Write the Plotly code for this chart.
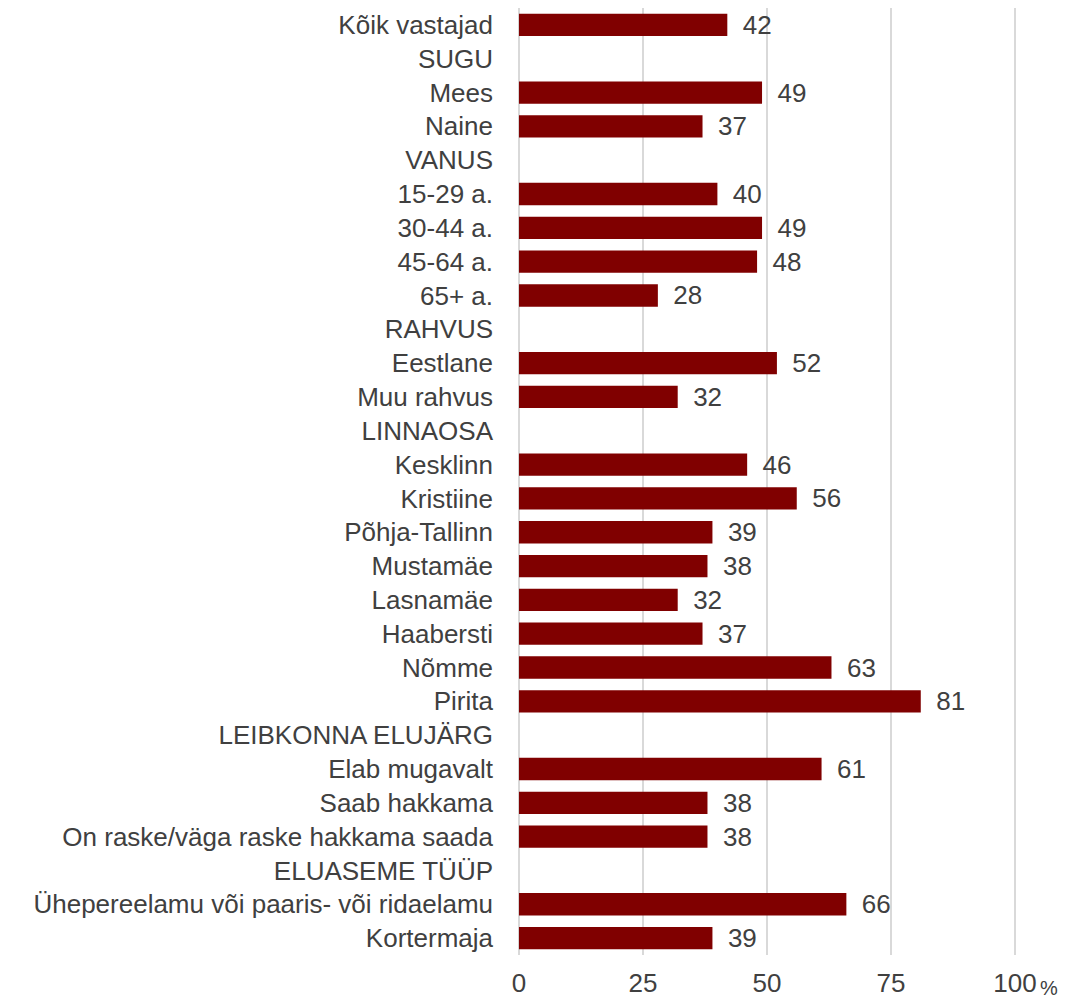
import plotly.graph_objects as go

categories = [
    "Kõik vastajad", "SUGU", "Mees", "Naine", "VANUS", "15-29 a.", "30-44 a.",
    "45-64 a.", "65+ a.", "RAHVUS", "Eestlane", "Muu rahvus", "LINNAOSA",
    "Kesklinn", "Kristiine", "Põhja-Tallinn", "Mustamäe", "Lasnamäe", "Haabersti",
    "Nõmme", "Pirita", "LEIBKONNA ELUJÄRG", "Elab mugavalt", "Saab hakkama",
    "On raske/väga raske hakkama saada", "ELUASEME TÜÜP",
    "Ühepereelamu või paaris- või ridaelamu", "Kortermaja",
]
values = [
    42, None, 49, 37, None, 40, 49, 48, 28, None, 52, 32, None,
    46, 56, 39, 38, 32, 37, 63, 81, None, 61, 38, 38, None, 66, 39,
]
tick_vals = [0, 25, 50, 75, 100]
tick_text = ["0", "25", "50", "75", "100"]

font_fam = "Liberation Sans, Arial, sans-serif"
txt_color = "#404040"
fs = 26

fig = go.Figure(go.Bar(
    y=categories,
    x=values,
    orientation="h",
    marker=dict(color="#800000", line=dict(width=0)),
    text=[("" if v is None else " \u2009" + str(v)) for v in values],
    textposition="outside",
    constraintext="none",
    textfont=dict(size=fs, color=txt_color, family=font_fam),
    cliponaxis=False,
))

# page body has an 8px margin, so the figure is sized 8px smaller
fig.update_layout(
    width=1058, height=992,
    margin=dict(l=509, r=49, t=0, b=45),
    paper_bgcolor="white", plot_bgcolor="white",
    bargap=0.34,
    showlegend=False,
    font=dict(family=font_fam, size=fs, color=txt_color),
    xaxis=dict(
        range=[-0.4, 100.4], tickvals=tick_vals, ticktext=tick_text,
        showgrid=True, gridcolor="#d9d9d9", gridwidth=2,
        zeroline=False, showline=False, automargin=False,
        ticks="outside", ticklen=5, tickcolor="rgba(0,0,0,0)",
        tickfont=dict(size=fs, color=txt_color),
    ),
    yaxis=dict(
        autorange="reversed", showgrid=False, zeroline=False,
        showline=False, ticks="", automargin=False,
        ticklabelstandoff=23,
        tickfont=dict(size=fs, color=txt_color),
    ),
    annotations=[dict(
        text="%", x=100, xref="x", y=0, yref="paper",
        xanchor="left", yanchor="top", xshift=23, yshift=-20,
        showarrow=False, font=dict(size=20, color=txt_color, family=font_fam),
    )],
)

fig.write_html("out.html")
